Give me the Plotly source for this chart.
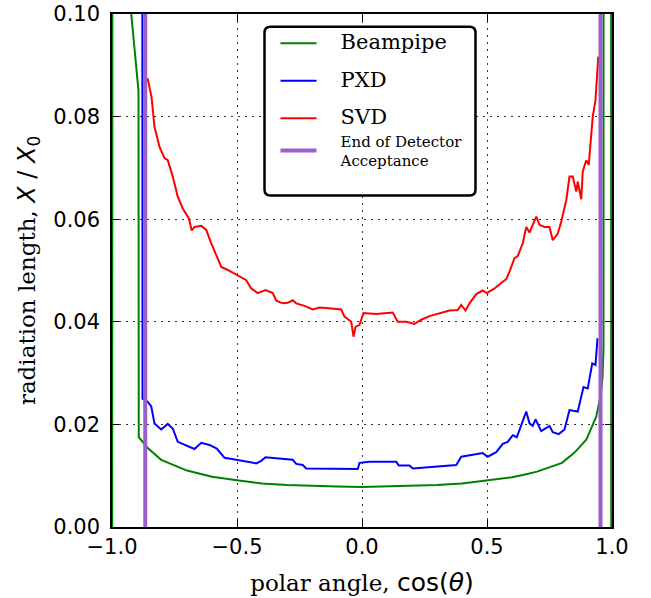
import plotly.graph_objects as go

# ---- data ----
beampipe_cos = [-0.999, -0.998, -0.930, -0.923, -0.894, -0.893, -0.857, -0.803, -0.700, -0.600, -0.500,
                -0.400, -0.300, -0.200, -0.100, 0.000, 0.100, 0.200, 0.300, 0.400, 0.500, 0.600,
                0.657, 0.700, 0.800, 0.850, 0.897, 0.920, 0.937, 0.954, 0.962, 0.966, 0.967, 0.996, 0.997]
beampipe_val = [0.0, 0.3, 0.3, 0.100, 0.085, 0.0175, 0.0154, 0.0131, 0.0110, 0.0098, 0.0091,
                0.0085, 0.0082, 0.0080, 0.0079, 0.0078, 0.0079, 0.0080, 0.0082, 0.0085, 0.0091, 0.0097,
                0.0103, 0.0108, 0.0125, 0.0145, 0.0170, 0.0195, 0.0215, 0.0255, 0.0290, 0.0350, 0.3, 0.3, 0.0]

pxd_cos = [-0.879, -0.878, -0.857, -0.843, -0.830, -0.803, -0.777, -0.757, -0.737, -0.710, -0.670,
           -0.643, -0.610, -0.581, -0.550, -0.503, -0.463, -0.423, -0.403, -0.386, -0.343, -0.277,
           -0.263, -0.237, -0.223, -0.130, -0.017, -0.010, 0.030, 0.137, 0.147, 0.190, 0.203,
           0.377, 0.397, 0.483, 0.503, 0.537, 0.563, 0.583, 0.603, 0.619, 0.637, 0.657, 0.670,
           0.683, 0.694, 0.717, 0.750, 0.763, 0.787, 0.810, 0.830, 0.863, 0.886, 0.903, 0.921,
           0.934, 0.942]
pxd_val = [0.150, 0.0250, 0.0244, 0.0235, 0.0202, 0.0190, 0.0201, 0.0192, 0.0166, 0.0160, 0.0152,
           0.0164, 0.0160, 0.0153, 0.0135, 0.0131, 0.0127, 0.0124, 0.0129, 0.0136, 0.0134, 0.0131,
           0.0123, 0.0121, 0.0114, 0.0113, 0.0113, 0.0125, 0.0127, 0.0127, 0.0120, 0.0120, 0.0114,
           0.0121, 0.0137, 0.0144, 0.0137, 0.0146, 0.0162, 0.0166, 0.0179, 0.0175, 0.0199, 0.0225, 0.0202,
           0.0197, 0.0210, 0.0187, 0.0197, 0.0185, 0.0181, 0.0190, 0.0228, 0.0225, 0.0273, 0.0270, 0.0319,
           0.0316, 0.0368]

svd_cos = [-0.858, -0.842, -0.830, -0.810, -0.790, -0.777, -0.757, -0.737, -0.717, -0.693, -0.681,
           -0.670, -0.643, -0.623, -0.603, -0.581, -0.563, -0.537, -0.497, -0.463, -0.443, -0.417,
           -0.386, -0.357, -0.343, -0.317, -0.297, -0.277, -0.263, -0.230, -0.197, -0.170, -0.123,
           -0.083, -0.070, -0.043, -0.034, -0.026, -0.010, 0.006, 0.057, 0.123, 0.143, 0.177, 0.210,
           0.237, 0.270, 0.310, 0.350, 0.383, 0.397, 0.414, 0.430, 0.457, 0.483, 0.499, 0.530,
           0.563, 0.577, 0.590, 0.610, 0.623, 0.643, 0.657, 0.670, 0.697, 0.710, 0.730, 0.750,
           0.763, 0.783, 0.797, 0.817, 0.830, 0.843, 0.857, 0.863, 0.877, 0.883, 0.897, 0.907,
           0.913, 0.923, 0.934, 0.939, 0.945]
svd_val = [0.0875, 0.0839, 0.0780, 0.0741, 0.0719, 0.0715, 0.0683, 0.0644, 0.0621, 0.0602, 0.0578,
           0.0585, 0.0587, 0.0579, 0.0553, 0.0527, 0.0507, 0.0501, 0.0491, 0.0481, 0.0465, 0.0456,
           0.0462, 0.0456, 0.0441, 0.0436, 0.0437, 0.0442, 0.0436, 0.0431, 0.0424, 0.0428, 0.0426,
           0.0424, 0.0410, 0.0400, 0.0371, 0.0390, 0.0394, 0.0417, 0.0415, 0.0418, 0.0400, 0.0400, 0.0396,
           0.0404, 0.0411, 0.0417, 0.0422, 0.0423, 0.0433, 0.0422, 0.0436, 0.0454, 0.0461, 0.0456, 0.0465,
           0.0478, 0.0483, 0.0498, 0.0524, 0.0528, 0.0553, 0.0585, 0.0574, 0.0605, 0.0589, 0.0585, 0.0585,
           0.0559, 0.0572, 0.0595, 0.0637, 0.0683, 0.0683, 0.0654, 0.0673, 0.0639, 0.0693, 0.0715, 0.0706,
           0.0741, 0.0800, 0.0832, 0.0871, 0.0917]

acceptance_cos = [-0.867, 0.954]
acceptance_span = [0.0, 0.1]

x_ticks = [-1.0, -0.5, 0.0, 0.5, 1.0]
y_ticks = [0.00, 0.02, 0.04, 0.06, 0.08, 0.10]

GREEN, BLUE, RED, PURPLE = "#008000", "#0000ff", "#ff0000", "#9a5fcb"
PAD = "\u00a0\u00a0\u00a0\u00a0"


def big(txt):
    return f'{PAD}<span style="font-size:21px">{txt}</span>'


fig = go.Figure()
fig.add_trace(go.Scatter(x=beampipe_cos, y=beampipe_val, mode="lines", name=big("Beampipe"),
                         line=dict(color=GREEN, width=2), legendgroup="a"))
fig.add_trace(go.Scatter(x=pxd_cos, y=pxd_val, mode="lines", name=big("PXD"),
                         line=dict(color=BLUE, width=2), legendgroup="b"))
fig.add_trace(go.Scatter(x=svd_cos, y=svd_val, mode="lines", name=big("SVD"),
                         line=dict(color=RED, width=2), legendgroup="c"))
for i, c in enumerate(acceptance_cos):
    fig.add_trace(go.Scatter(x=[c, c], y=acceptance_span, mode="lines",
                             name="\u00a0\u00a0\u00a0\u00a0End of Detector<br>\u00a0\u00a0\u00a0\u00a0Acceptance",
                             line=dict(color=PURPLE, width=4), legendgroup="c",
                             showlegend=(i == 0)))

# rounded legend frame
x0, x1, y0, y1 = 0.305, 0.727, 0.646, 0.975
rx, ry = 0.012, 0.0117
path = (f"M{x0+rx},{y0} L{x1-rx},{y0} Q{x1},{y0} {x1},{y0+ry} L{x1},{y1-ry} Q{x1},{y1} {x1-rx},{y1} "
        f"L{x0+rx},{y1} Q{x0},{y1} {x0},{y1-ry} L{x0},{y0+ry} Q{x0},{y0} {x0+rx},{y0} Z")
fig.add_shape(type="path", path=path, xref="paper", yref="paper",
              line=dict(color="black", width=2.5), fillcolor="white", layer="above")

axis_common = dict(showline=True, linecolor="black", linewidth=1.5, mirror="ticks",
                   ticks="inside", ticklen=7, tickwidth=1, tickcolor="black",
                   showgrid=True, gridcolor="#333333", gridwidth=1, griddash="2px,5px",
                   zeroline=False, automargin=False,
                   tickfont=dict(family="DejaVu Sans", size=21, color="black"))

fig.update_xaxes(range=[-1, 1], tickvals=x_ticks, tickformat=".1f",
                 title=dict(text='polar angle, <span style="font-family:DejaVu Sans;font-size:25px">cos(<i>θ</i>)</span>',
                            font=dict(family="DejaVu Serif", size=23, color="black"), standoff=17),
                 ticklabelstandoff=0, **axis_common)
fig.update_yaxes(range=[0, 0.1], tickvals=y_ticks, tickformat=".2f",
                 title=dict(text='radiation length, <span style="font-family:DejaVu Sans;font-size:24px"><i>X</i> / <i>X</i><sub>0</sub></span>',
                            font=dict(family="DejaVu Serif", size=23, color="black"), standoff=11),
                 ticklabelstandoff=6, **axis_common)

fig.update_layout(
    width=651, height=598,
    margin=dict(l=112, r=39, t=14, b=71),
    plot_bgcolor="white", paper_bgcolor="white",
    showlegend=True,
    legend=dict(x=0.327, y=0.9747, xanchor="left", yanchor="top",
                bgcolor="rgba(0,0,0,0)", borderwidth=0,
                font=dict(family="DejaVu Serif", size=15, color="black"),
                itemwidth=36, tracegroupgap=15, traceorder="grouped"),
)

fig.write_html("out.html", config={"displayModeBar": False},
               post_script="document.body.style.margin='0';")
